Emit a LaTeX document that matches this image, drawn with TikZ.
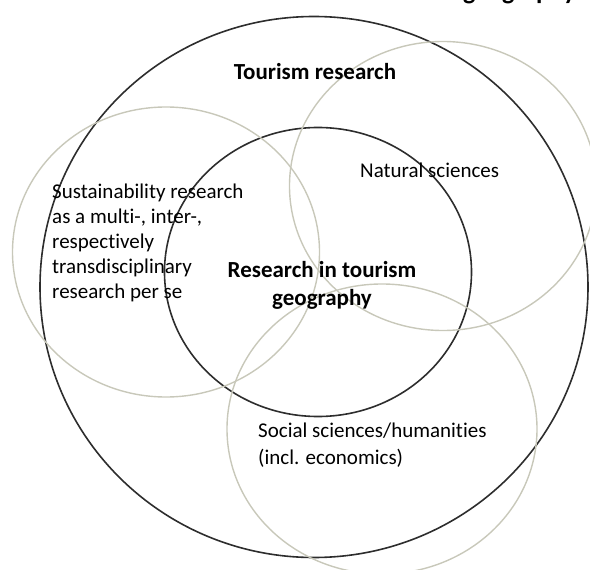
\documentclass[tikz,border=0pt]{standalone}
\usepackage{fontspec}
\setmainfont{Carlito}[Ligatures=NoCommon]
\usetikzlibrary{shapes.geometric}
\definecolor{fieldgray}{RGB}{200,200,186}
\definecolor{ringblack}{RGB}{45,45,45}
\begin{document}
\begin{tikzpicture}[x=1pt,y=-1pt,
  ring/.style={ellipse,draw=ringblack,line width=1.6pt,inner sep=0pt},
  field/.style={ellipse,draw=fieldgray,line width=1.4pt,inner sep=0pt},
  label/.style={font=\fontsize{21}{25}\selectfont,inner sep=0pt},
  title/.style={font=\fontsize{23}{28}\selectfont\bfseries,inner sep=0pt,align=center}]
\useasboundingbox (0,0) rectangle (590,570);
% the two fields of tourism
\node[ring,minimum width=548pt,minimum height=541pt] (tourism) at (314,287) {};
\node[ring,minimum width=307pt,minimum height=289pt] (geo) at (318,272) {};
% neighbouring disciplines
\node[field,minimum width=307pt,minimum height=290pt] (sust) at (166,252) {};
\node[field,minimum width=307pt,minimum height=289pt] (nat) at (443,186) {};
\node[field,minimum width=310pt,minimum height=290pt] (soc) at (382,429) {};
% labels
\node[title,anchor=base] (tourismlbl) at (315,79) {Tourism research};
\node[title,anchor=north] (geolbl) at (322,261) {Research in tourism\\geography};
\node[label,anchor=base west] (natlbl) at (360,177) {Natural sciences};
\node[label,anchor=north west,align=left] (sustlbl) at (52,184) {Sustainability research\\as a multi-, inter-,\\respectively\\transdisciplinary\\research per se};
\node[label,anchor=north west,align=left,font=\fontsize{21}{27}\selectfont] (soclbl) at (258,423) {Social sciences/humanities\\(incl. economics)};
\node[title,anchor=base east,font=\fontsize{26}{30}\selectfont\bfseries] (caption) at (576,-1) {geography};
\end{tikzpicture}
\end{document}
